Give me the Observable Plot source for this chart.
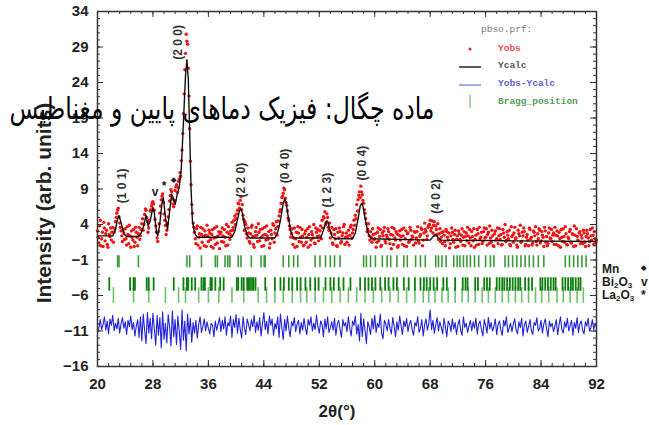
<!DOCTYPE html>
<html><head><meta charset="utf-8">
<script src="https://cdn.jsdelivr.net/npm/d3@7"></script>
<script src="https://cdn.jsdelivr.net/npm/@observablehq/plot@0.6"></script>
<style>
body{margin:0;background:#fff}
#wrap{position:relative;width:649px;height:425px;overflow:hidden;background:#fff}
#wrap svg{position:absolute;left:0;top:0}
</style></head><body><div id="wrap"></div>
<script>
// 2θ grid of the measured pattern
const obsStart = 20, obsStep = 0.2, midStart = 20.1;
// Yobs (red points) at 20.0, 20.2, ...
const yObs = [
3.1,1.4,4.6,2.0,0.9,3.5,2.7,1.2,4.1,2.3,
1.8,3.6,2.9,4.4,5.6,6.3,4.2,3.1,1.6,2.8,
3.4,1.1,2.6,3.9,0.8,2.2,3.3,1.5,2.9,1.0,
3.6,2.4,4.1,3.2,5.4,6.0,4.4,3.5,5.9,6.6,
7.2,6.0,3.8,2.1,3.0,5.6,7.5,8.3,5.5,3.9,
3.2,5.1,7.3,8.9,7.6,6.5,8.8,9.6,9.2,10.4,
10.8,14.5,19.6,25.8,30.8,29.4,22.1,12.9,6.8,4.2,
2.9,1.3,3.8,2.2,0.7,2.6,3.4,1.0,2.5,3.9,
1.6,2.8,0.9,3.3,2.1,1.2,3.7,2.4,0.6,2.9,
3.5,1.5,2.2,4.0,1.1,2.7,3.1,4.3,3.6,5.2,
4.8,6.0,6.9,7.4,6.1,5.3,3.2,4.0,2.1,2.8,
1.4,3.6,2.3,0.8,3.0,2.5,4.1,1.7,2.2,3.4,
1.0,2.6,3.8,1.9,0.7,3.2,2.0,3.9,2.8,4.4,
3.7,5.2,6.1,7.8,8.4,8.9,7.1,5.9,4.6,3.3,
2.7,1.2,3.5,2.0,0.9,2.8,3.6,1.5,2.4,1.1,
3.1,2.2,0.8,3.7,1.8,2.6,4.0,1.3,2.9,3.3,
2.4,3.8,4.6,5.1,5.8,4.3,5.0,3.2,2.1,3.6,
1.2,2.6,3.4,0.9,2.1,3.0,1.6,2.8,4.0,2.2,
1.5,3.2,2.5,3.9,2.8,4.6,5.3,6.8,7.5,8.6,
9.4,8.2,7.0,5.6,4.1,3.3,2.4,3.0,1.5,2.6,
2.0,0.8,2.9,1.7,3.3,1.1,2.4,3.6,1.4,2.2,
3.0,1.3,0.6,2.5,3.4,1.8,2.7,1.0,3.1,2.3,
1.2,3.5,2.0,0.9,2.8,1.6,3.2,2.4,1.1,2.9,
2.1,3.7,1.4,2.6,3.3,1.8,4.2,3.0,2.4,3.9,
4.6,3.5,2.8,4.4,3.8,2.6,1.9,3.4,2.2,1.3,
2.5,1.0,3.0,1.8,0.7,2.4,2.9,1.5,3.2,1.9,
0.9,2.7,1.6,3.4,2.2,1.0,2.8,3.6,1.4,2.1,
3.0,1.7,0.8,2.5,3.3,1.2,2.0,2.9,1.6,3.5,
2.2,1.1,2.9,3.8,1.5,2.4,0.9,3.1,2.0,1.3,
3.4,2.6,1.2,2.8,4.0,1.8,2.5,3.2,1.0,2.3,
1.5,3.6,2.1,0.8,2.7,3.9,1.6,2.4,3.0,1.2,
2.6,1.0,3.3,2.2,1.4,2.9,3.7,1.1,2.0,3.2,
1.7,2.5,0.9,3.1,2.3,1.3,3.5,2.0,1.6,2.8,
3.6,1.2,2.4,2.9,0.8,2.2,3.4,1.5,2.7,1.1,
2.0,3.3,1.4,2.6,3.8,1.0,2.3,1.7,3.0,2.5,
1.3,2.8,0.9,3.2,2.1,1.6,2.4,3.5,1.2,2.0,
1.8];
// Yobs (red points) at 20.1, 20.3, ...
const yObsMid = [
2.2,3.8,1.0,2.9,4.3,1.7,3.2,0.8,2.6,3.5,
2.9,1.5,3.4,5.0,6.0,5.1,3.6,2.4,3.3,1.9,
2.0,3.7,1.3,2.4,3.1,1.8,0.9,3.6,2.2,2.7,
1.9,3.3,4.8,4.0,6.2,5.0,2.9,4.6,6.1,7.0,
6.9,4.7,2.9,1.6,4.1,6.6,8.0,7.1,4.6,2.6,
4.2,6.1,8.1,8.6,6.9,7.4,9.3,8.5,10.1,11.3,
13.0,16.8,22.4,28.1,29.8,26.0,17.5,9.6,5.6,3.6,
2.0,3.4,1.1,2.7,3.6,1.5,2.3,3.1,0.9,2.4,
3.2,1.9,2.6,0.7,3.5,2.2,1.4,3.0,2.7,1.6,
2.4,3.3,1.0,2.9,3.7,1.9,2.5,3.2,4.6,4.0,
5.5,7.0,6.3,7.9,6.8,4.7,4.4,2.7,3.5,1.6,
2.7,3.9,1.2,2.4,3.6,1.6,2.9,3.3,0.9,2.5,
3.6,1.8,2.4,3.0,1.3,2.6,4.1,1.5,3.4,2.5,
4.5,5.8,7.0,8.0,9.1,7.7,6.7,4.9,3.8,2.2,
3.4,2.1,0.8,2.9,3.7,1.6,2.2,3.3,1.0,2.7,
1.5,3.4,2.6,1.1,3.0,2.1,1.4,3.5,2.3,1.7,
3.1,2.0,3.5,4.9,4.0,5.5,3.6,4.2,2.8,1.4,
3.3,2.0,1.0,2.9,3.5,1.4,2.4,3.7,1.2,2.8,
2.3,1.1,3.6,2.1,3.3,3.9,4.8,5.9,8.1,7.8,
8.6,7.4,6.1,4.8,3.0,4.1,1.8,2.2,3.4,1.9,
2.7,1.5,3.5,2.3,0.9,2.8,3.1,1.7,2.5,3.4,
1.9,2.6,3.6,1.2,2.1,3.0,0.8,2.5,1.8,3.3,
2.4,1.0,3.1,2.7,1.5,3.6,1.9,2.2,3.0,1.4,
3.0,1.7,2.3,3.5,1.0,2.8,3.3,1.9,3.6,4.0,
3.1,4.5,3.9,2.5,3.3,4.1,2.7,1.6,2.9,3.0,
1.6,3.3,2.2,2.8,1.3,3.5,1.9,2.6,0.8,2.4,
3.1,1.9,2.5,1.1,3.0,2.3,1.7,2.4,3.3,1.0,
2.3,3.4,1.9,1.1,2.7,3.6,2.2,1.3,3.0,2.1,
3.4,2.6,1.3,2.1,3.2,1.0,2.7,1.8,3.5,2.4,
1.9,1.1,3.3,2.2,1.6,3.0,2.0,1.2,3.7,2.5,
2.8,2.0,1.1,3.2,2.4,1.5,2.9,3.5,1.0,2.2,
1.8,3.5,2.0,1.1,3.1,2.4,1.6,2.7,3.4,1.4,
3.0,2.2,3.6,1.5,1.0,2.8,2.1,3.3,2.5,1.2,
2.5,3.1,1.0,2.0,3.3,1.6,2.3,3.7,1.2,2.2,
3.0,1.5,2.7,0.9,2.5,3.4,1.8,2.8,1.3,2.1,
3.2,1.5,2.3,2.7,1.0,3.3,1.8,2.5,3.0,1.4];
// Yobs-Ycalc (blue line), grid 20.0, 20.2, ...
const yDiff = [
-11.2,-10.6,-9.4,-10.8,-10.1,-9.0,-10.9,-9.6,-11.4,-9.3,
-10.2,-8.8,-11.0,-9.9,-10.7,-9.2,-11.3,-10.0,-9.1,-10.6,
-9.7,-11.5,-9.5,-10.4,-8.9,-10.8,-9.8,-11.7,-10.3,-9.4,
-11.9,-9.0,-12.4,-8.6,-10.9,-12.8,-8.4,-11.3,-9.2,-12.1,
-8.5,-10.7,-13.0,-8.8,-11.6,-9.1,-13.4,-8.3,-12.2,-9.9,
-12.7,-8.7,-10.4,-13.1,-8.2,-11.8,-9.4,-12.9,-8.9,-11.1,
-13.6,-8.0,-12.3,-9.6,-13.8,-8.6,-11.4,-9.2,-12.6,-9.8,
-11.3,-9.5,-12.0,-10.1,-9.0,-11.2,-10.4,-9.3,-11.0,-9.7,
-10.6,-11.4,-9.9,-10.2,-11.8,-9.6,-10.9,-10.0,-9.1,-11.1,
-9.5,-10.7,-9.0,-11.6,-9.8,-10.3,-8.9,-11.9,-9.4,-10.5,
-8.7,-11.3,-9.2,-10.8,-12.0,-9.0,-10.6,-11.5,-9.3,-10.1,
-11.0,-9.4,-10.4,-8.8,-11.2,-9.7,-10.9,-9.1,-11.7,-10.0,
-8.4,-10.8,-9.6,-11.4,-8.9,-10.2,-9.3,-11.6,-9.9,-10.7,
-9.0,-11.9,-8.6,-10.5,-12.2,-9.4,-11.0,-8.9,-10.6,-11.8,
-9.7,-10.3,-9.1,-11.1,-10.0,-9.5,-11.4,-9.8,-10.9,-9.2,
-10.6,-11.5,-9.4,-10.2,-9.0,-11.0,-9.9,-10.8,-8.8,-10.4,
-11.3,-9.6,-10.1,-11.8,-9.3,-10.7,-9.0,-11.2,-10.5,-9.7,
-10.9,-9.2,-11.6,-10.0,-9.5,-10.8,-11.9,-9.4,-10.3,-9.8,
-11.1,-9.0,-10.6,-11.7,-9.6,-10.2,-8.9,-11.4,-10.1,-12.4,
-8.5,-11.8,-9.3,-10.9,-12.8,-9.7,-10.4,-11.5,-9.2,-10.7,
-8.8,-11.2,-9.9,-10.5,-8.6,-11.3,-12.1,-9.5,-10.0,-11.0,
-9.4,-10.6,-11.4,-9.1,-10.3,-11.8,-9.7,-10.9,-8.9,-10.2,
-11.5,-9.6,-10.4,-9.2,-11.1,-10.0,-9.5,-10.8,-11.6,-9.8,
-10.3,-9.0,-11.2,-10.6,-9.4,-11.7,-10.1,-9.3,-10.9,-9.9,
-8.0,-10.8,-9.5,-11.3,-10.2,-9.1,-11.0,-9.7,-10.5,-11.4,
-9.2,-10.4,-11.8,-9.6,-10.0,-11.1,-9.3,-10.7,-9.8,-11.5,
-10.1,-9.4,-10.9,-11.6,-9.0,-10.5,-9.9,-11.2,-10.3,-9.5,
-11.0,-9.7,-10.6,-9.2,-11.4,-10.0,-9.6,-10.8,-11.7,-9.4,
-10.2,-11.3,-9.1,-10.7,-9.8,-11.0,-10.4,-9.3,-11.5,-10.1,
-9.6,-10.9,-11.6,-9.5,-10.3,-9.0,-11.2,-10.6,-9.9,-11.1,
-10.0,-9.3,-10.8,-11.4,-9.7,-10.5,-9.2,-11.7,-10.1,-9.6,
-11.2,-10.4,-9.4,-10.9,-11.5,-9.8,-10.2,-9.1,-11.0,-10.6,
-9.5,-11.3,-10.0,-9.3,-10.7,-11.8,-9.6,-10.4,-9.9,-11.1,
-10.3,-9.4,-11.5,-10.1,-9.0,-10.8,-11.3,-9.7,-10.5,-9.2,
-11.0,-10.2,-9.5,-11.6,-9.8,-10.6,-9.1,-11.2,-10.0,-9.6,
-10.9,-11.4,-9.7,-10.3,-9.2,-11.0,-10.5,-9.4,-10.8,-10.0,
-10.4];
// Ycalc (black line)
const calcX = [20,22.2,22.6,22.9,23.1,23.4,23.8,24.2,25.8,26.2,26.6,27.0,27.3,27.6,28.0,28.2,28.5,28.7,29.0,29.3,29.5,29.8,30.1,30.4,30.7,30.9,31.2,31.5,31.8,32.1,32.4,32.7,32.9,33.1,33.3,33.5,33.7,34.0,34.4,39.4,39.8,40.2,40.5,40.7,40.9,41.2,41.6,42.0,45.6,46.0,46.4,46.8,47.0,47.2,47.5,47.9,48.3,52.2,52.6,53.0,53.2,53.5,53.9,54.3,56.8,57.2,57.6,57.9,58.1,58.3,58.7,59.1,59.5,68.0,68.4,68.8,69.2,69.6,80,92];
const calcY = [2.4,2.4,3.3,4.8,5.2,4.3,2.7,2.3,2.3,2.6,3.6,5.3,3.8,4.5,6.4,5.6,3.0,2.4,4.2,7.0,7.8,5.0,3.3,5.8,8.3,7.8,6.8,8.2,9.3,12.0,18.5,25.0,27.2,24.5,17.0,9.0,4.5,2.8,2.2,2.2,3.0,4.7,6.0,6.2,5.6,3.8,2.5,2.1,2.1,2.9,4.6,7.0,7.6,7.2,5.2,3.0,2.1,2.1,3.2,4.4,4.5,3.3,2.2,2.0,2.0,2.8,4.8,6.6,7.0,6.6,4.4,2.6,2.0,1.8,2.3,2.6,2.1,1.8,1.7,1.6];
// Bragg positions of the three phases (2θ)
const braggA = [22.9,23.1,25.9,32.9,33.3,35.0,37.0,37.3,38.4,38.8,39.1,40.3,40.7,42.2,43.6,44.05,44.2,46.8,47.6,48.3,48.9,51.4,52.1,52.9,53.6,54.2,55.0,58.4,58.8,59.4,60.1,61.1,61.8,62.3,63.2,64.2,64.7,65.9,66.6,67.3,68.8,69.2,69.7,70.3,71.4,71.9,72.3,72.8,73.3,73.8,74.4,75.0,76.0,76.7,77.2,78.8,79.3,79.9,80.5,81.1,81.7,82.3,82.9,83.6,84.4,87.5,88.1,88.7,89.3,89.9,90.5];
const braggB = [21.7,24.7,25.2,25.4,27.1,27.4,28.1,31.0,32.4,32.9,33.1,33.6,34.1,35.0,35.3,35.5,36.3,36.5,37.0,37.7,38.2,40.1,40.3,40.8,41.1,41.6,41.8,42.0,42.3,42.5,42.8,44.2,45.6,46.4,46.9,47.6,48.1,48.8,49.3,50.0,50.7,51.4,51.9,52.9,53.6,54.1,54.8,55.5,56.5,57.9,58.6,59.1,59.6,60.1,60.8,61.5,62.0,62.7,63.2,64.2,64.9,65.8,66.6,67.1,67.5,68.0,68.5,69.0,69.9,70.4,71.6,72.7,73.1,73.4,74.5,74.9,75.8,76.2,76.6,77.6,78.0,78.4,78.7,79.1,79.5,79.9,80.3,80.7,81.0,81.7,82.2,82.7,83.9,84.2,84.6,85.0,85.4,85.8,86.1,87.1,87.5,87.9,88.3,88.6,89.0,89.4,89.7];
const braggC = [22.3,25.2,27.4,29.8,31.7,32.7,34.6,36.0,37.5,39.4,41.1,43.2,44.4,45.6,46.8,48.1,49.3,50.2,51.4,52.6,53.8,55.0,56.2,57.4,58.6,59.8,61.0,62.2,63.4,64.6,65.8,67.0,67.8,68.7,69.7,70.6,71.6,72.6,73.5,74.5,75.5,76.4,77.4,78.4,79.3,80.3,81.2,82.2,83.2,84.1,85.1,86.3,87.2,88.2,89.2,90.1];
const rowA = [-0.4, -2.1], rowB = [-3.5, -5.4], rowC = [-4.9, -7.1];
// hkl peak labels
const hklText = ["(1 0 1)","(2 0 0)","(2 2 0)","(0 4 0)","(1 2 3)","(0 0 4)","(4 0 2)"];
const hklX = [23.5,31.7,40.8,47.1,53.1,58.15,68.9];
const hklY = [7.0,27.2,7.8,9.8,6.4,10.2,5.5];
// impurity markers
const impText = ["v","*","◆"];
const impX = [28.3,29.6,30.9];
const impY = [8.5,9.4,10.3];
// ticks
const xTicks = [20,28,36,44,52,60,68,76,84,92];
const yTicks = [34,29,24,19,14,9,4,-1,-6,-11,-16];
const xMinor = d3.range(20, 92.01, 1.6);
const yMinor = d3.range(-16, 34.01, 1);
// texts
const persianTitle = "ماده چگال: فیزیک دماهای پایین و مغناطیس";
const yTitle = "Intensity (arb. units)";
const xTitle = "2θ(°)";
const legendFile = "pbso.prf:";
const legendLabels = ["Yobs","Ycalc","Yobs-Ycalc","Bragg_position"];
const phaseNames = [["Mn"],["Bi","2","O","3"],["La","2","O","3"]];
const phaseSymbols = ["◆","v","*"];

const obs = yObs.map((y,i)=>({x: +(obsStart+i*obsStep).toFixed(2), y}))
  .concat(yObsMid.map((y,i)=>({x: +(midStart+i*obsStep).toFixed(2), y})));
const diff = yDiff.map((y,i)=>({x: +(obsStart+i*obsStep).toFixed(2), y}));
const calc = calcX.map((x,i)=>({x, y: calcY[i]}));
const hkl = hklText.map((t,i)=>({t, x: hklX[i], y: hklY[i]}));
const imp = impText.map((t,i)=>({t, x: impX[i], y: impY[i]}));

const W=649, H=425, mL=97, mR=53, mT=11, mB=59;
const pw = W-mL-mR, ph = H-mT-mB;
const ax = "#333";
const chart = Plot.plot({
  width: W, height: H, marginLeft: mL, marginRight: mR, marginTop: mT, marginBottom: mB,
  style: {fontFamily: "'Liberation Sans', Arial, sans-serif", fontSize: "15px", fontWeight: "bold", color: "#222", background: "transparent", overflow: "visible"},
  x: {domain: [20,92], ticks: xTicks, tickSize: 0, tickPadding: 12, label: null},
  y: {domain: [-16,34], ticks: yTicks, tickSize: 0, tickPadding: 9, label: null},
  marks: [
    Plot.ruleX(braggC, {x: d=>d, y1: rowC[0], y2: rowC[1], stroke: "#6cbf6c", strokeWidth: 1.6}),
    Plot.ruleX(braggB, {x: d=>d, y1: rowB[0], y2: rowB[1], stroke: "#0e7f0e", strokeWidth: 1.8}),
    Plot.ruleX(braggA, {x: d=>d, y1: rowA[0], y2: rowA[1], stroke: "#3a9a3a", strokeWidth: 1.6}),
    Plot.line(diff, {x: "x", y: "y", stroke: "#2222dd", strokeWidth: 1.1}),
    Plot.dot(obs, {x: "x", y: "y", r: 1.7, fill: "#f01414"}),
    Plot.line(calc, {x: "x", y: "y", stroke: "#111", strokeWidth: 1.4}),
    Plot.text(hkl, {x: "x", y: "y", text: "t", rotate: -90, textAnchor: "start", fontSize: 12, fill: "#333"}),
    Plot.text(imp, {x: "x", y: "y", text: "t", fontSize: d => d.t === "◆" ? 7 : 12, fill: "#222"}),
    Plot.tickY(yMinor, {y: d=>d, insetRight: pw-3, stroke: ax}),
    Plot.tickY(yTicks, {y: d=>d, insetRight: pw-6, stroke: ax}),
    Plot.tickY(yMinor, {y: d=>d, insetLeft: pw-3, stroke: ax}),
    Plot.tickY(yTicks, {y: d=>d, insetLeft: pw-6, stroke: ax}),
    Plot.tickX(xMinor, {x: d=>d, insetTop: ph-3, stroke: ax}),
    Plot.tickX(xTicks, {x: d=>d, insetTop: ph-6, stroke: ax}),
    Plot.tickX(xMinor, {x: d=>d, insetBottom: ph-3, stroke: ax}),
    Plot.tickX(xTicks, {x: d=>d, insetBottom: ph-6, stroke: ax}),
    Plot.frame({stroke: ax, strokeWidth: 1.5})
  ]
});
const wrap = document.getElementById("wrap");
wrap.appendChild(chart);

// overlay: titles, legend, phase labels, watermark text
const ov = d3.select(wrap).append("svg").attr("width", W).attr("height", H)
  .style("font-family", "'Liberation Sans', Arial, sans-serif");
ov.append("text").attr("transform", "translate(51,203) rotate(-90)").attr("text-anchor", "middle")
  .attr("font-size", 21).attr("font-weight", "bold").attr("fill", "#222").text(yTitle);
ov.append("text").attr("x", 337).attr("y", 417).attr("text-anchor", "middle")
  .attr("font-size", 17).attr("font-weight", "bold").attr("fill", "#222").text(xTitle);

// legend
const mono = "'Liberation Mono', 'DejaVu Sans Mono', monospace";
const lg = ov.append("g").attr("font-family", mono).attr("font-size", 9.5).attr("font-weight", "bold");
lg.append("text").attr("x", 481).attr("y", 32).attr("fill", "#777").attr("font-weight", "normal").text(legendFile);
const lgCol = ["#e85050", "#555", "#6060d8", "#5a9a5a"];
const lgY = [51, 68, 86, 104];
legendLabels.forEach((t,i)=>lg.append("text").attr("x", 498).attr("y", lgY[i]).attr("fill", lgCol[i]).text(t));
lg.append("circle").attr("cx", 470).attr("cy", 49).attr("r", 1.6).attr("fill", "#e03030");
lg.append("line").attr("x1", 459).attr("x2", 481).attr("y1", 67).attr("y2", 67).attr("stroke", "#222").attr("stroke-width", 1.5);
lg.append("line").attr("x1", 459).attr("x2", 481).attr("y1", 85).attr("y2", 85).attr("stroke", "#8888e6").attr("stroke-width", 1.5);
lg.append("line").attr("x1", 470).attr("x2", 470).attr("y1", 95).attr("y2", 108).attr("stroke", "#6cb86c").attr("stroke-width", 1.2);

// phase labels at right
const phY = [273, 286, 299];
phaseNames.forEach((parts,i)=>{
  const t = ov.append("text").attr("x", 602).attr("y", phY[i]).attr("font-size", 12).attr("font-weight", "bold").attr("fill", "#222");
  parts.forEach((p,j)=>{
    const sub = j % 2 === 1;
    t.append("tspan").attr("font-size", sub ? 8 : 12).attr("dy", sub ? 2 : (j>0 ? -2 : 0)).text(p);
  });
  ov.append("text").attr("x", 641).attr("y", phY[i] - (i===0 ? 3 : 0)).attr("font-size", i===0 ? 7 : 12).attr("font-weight", "bold").attr("fill", "#222").text(phaseSymbols[i]);
});

// Persian watermark line
const faG = ov.append("g").attr("transform", "translate(222,119) scale(1,1.3)");
const fa = faG.append("text").attr("x", 0).attr("y", 0).attr("text-anchor", "middle")
  .attr("font-family", "'DejaVu Sans', 'Noto Sans', sans-serif").attr("font-size", 26).attr("fill", "#000").text(persianTitle);
const len = fa.node().getComputedTextLength();
if (len > 0) fa.attr("font-size", 26 * 425 / len);
</script>
</body></html>
